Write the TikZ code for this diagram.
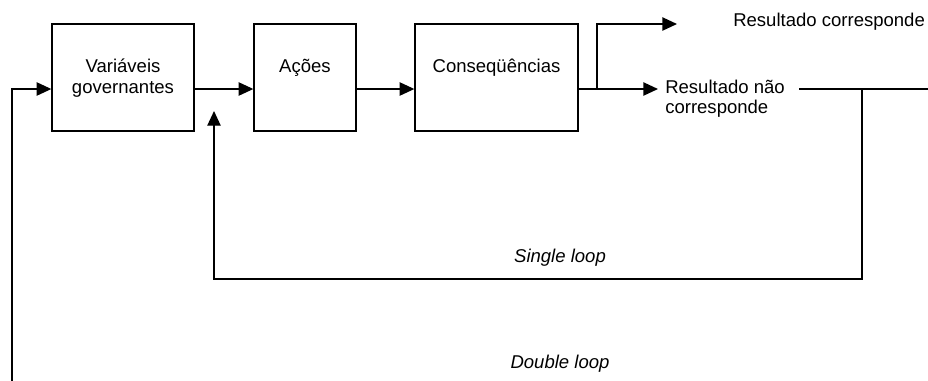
\documentclass[tikz,border=0pt]{standalone}
\usepackage{fontspec}
\setmainfont{Liberation Sans}
\usetikzlibrary{arrows.meta}
% two-line labels whose baseline is that of the first line
\newcommand\twolines[3]{\begin{tabular}[t]{@{}#1@{}}#2\\#3\end{tabular}}
\tikzset{
  box/.style={draw, line width=1pt, inner sep=0pt, minimum height=80.25pt},
  txt/.style={inner sep=0pt, font=\fontsize{13.9pt}{15.5pt}\selectfont},
  lbl/.style={txt, anchor=base},
  wire/.style={line width=1pt},
  arr/.style={wire, -{Triangle[length=11pt, width=10pt]}},
}
\begin{document}
\begin{tikzpicture}[x=0.75pt, y=-0.75pt]
\useasboundingbox (0,0) rectangle (928,380);

% process boxes
\node[box, minimum width=106.5pt]  (vg) at (123,77.5) {};
\node[box, minimum width=76.5pt]   (ac) at (305,77.5) {};
\node[box, minimum width=122.25pt] (co) at (496.5,77.5) {};

\node[lbl] (vgt) at (123,72.7) {\twolines{c}{Variáveis}{governantes}};
\node[lbl] (act) at (305,72.7) {Ações};
\node[lbl] (cot) at (496.5,72.7) {Conseqüências};

% outcome labels
\node[lbl, anchor=base west] (rc)  at (733,26.7) {Resultado corresponde};
\node[lbl, anchor=base west] (rnc) at (665,93.3) {\twolines{l}{Resultado não}{corresponde}};

% loop labels
\node[lbl, font=\fontsize{13.9pt}{15.5pt}\selectfont\itshape] (sl) at (560,262.7) {Single loop};
\node[lbl, font=\fontsize{13.9pt}{15.5pt}\selectfont\itshape] (dl) at (560,368.7) {Double loop};

% reference points of the wiring
\coordinate (m)      at (0,89);
\coordinate (split)  at (597,89);
\coordinate (rnctip) at (658,89);
\coordinate (rctip)  at (677,24);
\coordinate (outA)   at (799,89);
\coordinate (outB)   at (928,89);
\coordinate (slr)    at (862,89);
\coordinate (slb)    at (214,279);
\coordinate (sltip)  at (214,111);
\coordinate (dlb)    at (12,382);

% main chain
\draw[arr]  (vg.east |- m) -- (ac.west |- m);
\draw[arr]  (ac.east |- m) -- (co.west |- m);
\draw[wire] (co.east |- m) -- (split);
\draw[arr]  (split) -- (rnctip);
\draw[arr]  (split) |- (rctip);

% feedback loops
\draw[wire] (outA) -- (outB);
\draw[arr]  (slr) |- (slb) -- (sltip);
\draw[arr]  (dlb) |- (vg.west |- m);
\end{tikzpicture}
\end{document}
